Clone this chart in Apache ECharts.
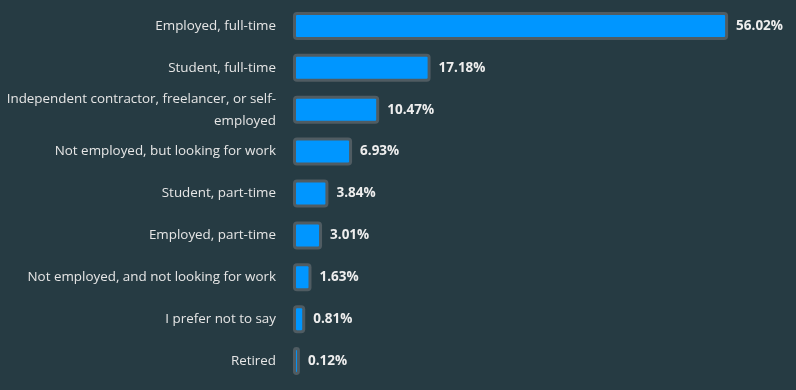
<!DOCTYPE html>
<html>
<head>
<meta charset="utf-8">
<script src="https://cdn.jsdelivr.net/npm/echarts@6/dist/echarts.min.js"></script>
<style>
html,body{margin:0;padding:0;background:#263b43;}
#chart{width:796px;height:390px;}
</style>
</head>
<body>
<div id="chart"></div>
<script>
const categories = [
  "Employed, full-time",
  "Student, full-time",
  "Independent contractor, freelancer, or self-employed",
  "Not employed, but looking for work",
  "Student, part-time",
  "Employed, part-time",
  "Not employed, and not looking for work",
  "I prefer not to say",
  "Retired"
];
const values = [56.02, 17.18, 10.47, 6.93, 3.84, 3.01, 1.63, 0.81, 0.12];

const BORDER = 3, BAR_H = 22;

const chart = echarts.init(document.getElementById('chart'), null, {renderer: 'canvas'});
chart.setOption({
  backgroundColor: '#263b43',
  animation: false,
  grid: {left: 296, right: 40.4, top: 5, bottom: 8, containLabel: false},
  xAxis: {
    type: 'value', min: 0, max: 60, show: false
  },
  yAxis: {
    type: 'category',
    data: categories,
    inverse: true,
    axisLine: {show: false},
    axisTick: {show: false},
    splitLine: {show: false},
    axisLabel: {
      color: '#e6e6e6',
      fontFamily: 'Open Sans',
      fontSize: 13.4,
      margin: 20,
      lineHeight: 22,
      formatter: v => v.replace('self-employed', 'self-\nemployed')
    }
  },
  series: [{
    type: 'custom',
    silent: true,
    z: 1,
    data: values.map((v, i) => [v, i]),
    encode: {x: 0, y: 1},
    renderItem: function (params, api) {
      const start = api.coord([0, api.value(1)]);
      const end = api.coord([api.value(0), api.value(1)]);
      return {
        type: 'rect',
        shape: {
          x: start[0] - BORDER,
          y: start[1] - BAR_H / 2 - BORDER,
          width: end[0] - start[0] + 2 * BORDER,
          height: BAR_H + 2 * BORDER,
          r: 4
        },
        style: {fill: '#505c62'}
      };
    }
  }, {
    type: 'bar',
    z: 2,
    data: values,
    barWidth: BAR_H,
    itemStyle: {
      color: '#0096ff',
      borderRadius: 1
    },
    label: {
      show: true,
      position: 'right',
      distance: 11,
      color: '#eeeeee',
      fontFamily: 'Open Sans',
      fontWeight: 'bold',
      fontSize: 13.5,
      formatter: p => p.value.toFixed(2) + '%'
    }
  }]
});
</script>
</body>
</html>
